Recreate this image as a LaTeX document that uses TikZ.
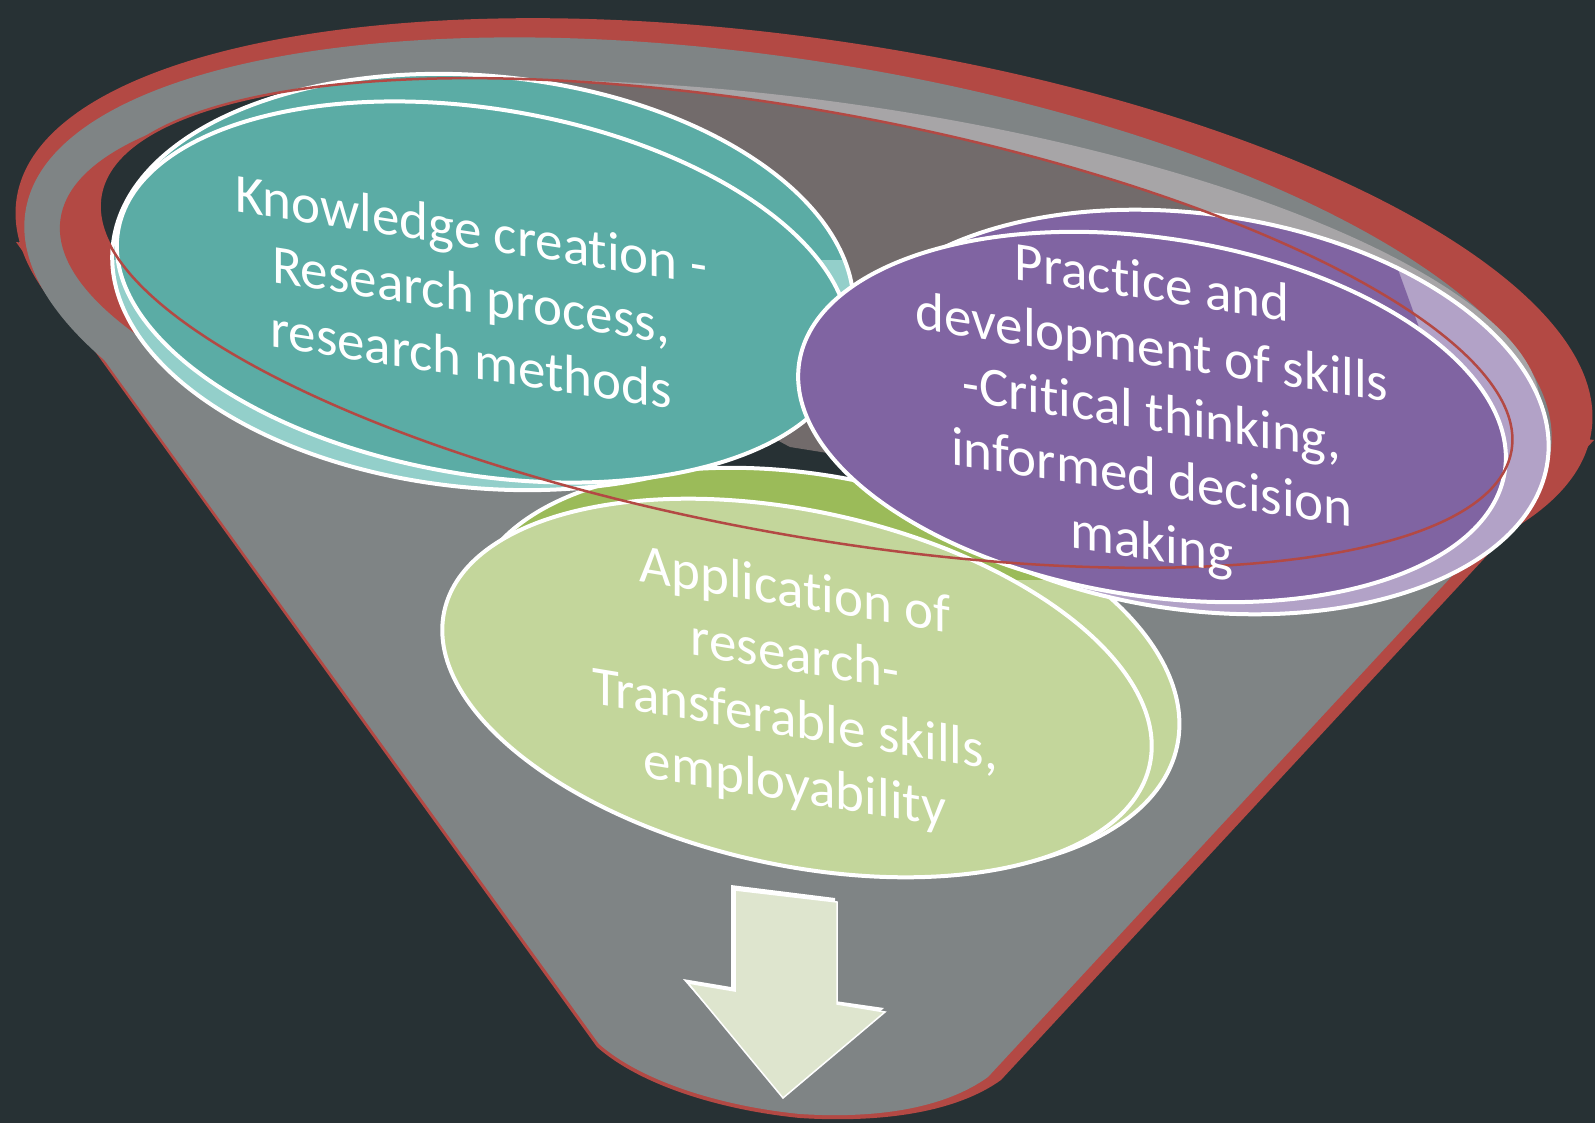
\documentclass[tikz,border=0pt]{standalone}
\usepackage{fontspec}
\setmainfont{Carlito}[Ligatures={NoCommon}]
\definecolor{bg}{HTML}{273134}
\definecolor{rimred}{HTML}{B34944}
\definecolor{fgray}{HTML}{7F8485}
\definecolor{lband}{HTML}{A7A5A7}
\definecolor{brownish}{HTML}{726B6B}
\definecolor{tealm}{HTML}{5BACA5}
\definecolor{teall}{HTML}{93CFCA}
\definecolor{purm}{HTML}{8064A2}
\definecolor{purl}{HTML}{B2A2C7}
\definecolor{grnm}{HTML}{C3D69B}
\definecolor{grnd}{HTML}{9BBB59}
\definecolor{arrowc}{HTML}{DEE5CE}
\begin{document}
\begin{tikzpicture}[x=1pt,y=-1pt,
  outl/.style={draw=white,line width=4pt},
  txt/.style={text=white,align=center,font=\fontsize{55}{65}\selectfont,inner sep=0pt,transform shape}]
\useasboundingbox (0,0) rectangle (1595,1123);
\fill[bg] (0,0) rectangle (1595,1123);
% funnel body
\fill[rimred] (16,242) -- (597,1047) .. controls (640,1085) and (720,1110) .. (800,1118)
  .. controls (880,1123) and (955,1113) .. (1001,1080) -- (1594,440) -- cycle;
\fill[fgray] (19,242) -- (599,1044) .. controls (641,1081) and (720,1106) .. (800,1114)
  .. controls (878,1119) and (945,1108) .. (988,1077) -- (1578,440) -- cycle;
% rim
\fill[rimred, rotate around={-8.4:(804,315)}] (804,315) ellipse [x radius=796, y radius=276];
\fill[fgray, rotate around={-9:(788,332)}] (788,332) ellipse [x radius=772, y radius=272];
% inner crescent
\begin{scope}
  \clip[rotate around={-7.5:(800,317)}] (800,317) ellipse [x radius=746, y radius=218];
  \fill[lband] (250,0) -- (1600,0) -- (1600,470) -- (250,470) -- cycle;
  \fill[rimred] (0,0) -- (300,0) -- (300,90) -- (175,360) -- (0,360) -- cycle;
\end{scope}
% hole
\fill[bg, rotate around={-10.3:(806,323)}] (806,323) ellipse [x radius=717, y radius=212];
\begin{scope}
  \clip[rotate around={-10.3:(806,323)}] (806,323) ellipse [x radius=717, y radius=212];
  \fill[brownish] (330,0) -- (1600,0) -- (1600,250) -- (1150,292) -- (1000,360) -- (840,455) -- (790,447) -- (330,200) -- cycle;
\end{scope}
% green
\fill[grnm, rotate around={-12:(824,671)}] (824,671) ellipse [x radius=361, y radius=193];
\begin{scope}
  \clip[rotate around={-12:(824,671)}] (824,671) ellipse [x radius=361, y radius=193];
  \fill[grnd] (400,400) -- (1125,400) -- (1125,580) -- (400,580) -- cycle;
\end{scope}
\draw[outl, rotate around={-12:(824,671)}] (824,671) ellipse [x radius=361, y radius=193];
\fill[grnm, outl, rotate around={-12.3:(797,688)}] (797,688) ellipse [x radius=361, y radius=177];
% teal
\fill[teall, rotate around={-5.5:(483,282)}] (483,282) ellipse [x radius=372, y radius=206];
\begin{scope}
  \clip[rotate around={-5.5:(483,282)}] (483,282) ellipse [x radius=372, y radius=206];
  \fill[tealm] (0,0) rectangle (1000,260);
\end{scope}
\draw[outl, rotate around={-5.5:(483,282)}] (483,282) ellipse [x radius=372, y radius=206];
\fill[tealm, outl, rotate around={-9.5:(483,292)}] (483,292) ellipse [x radius=370, y radius=183];
% purple
\fill[purl, rotate around={-8:(1195,412)}] (1195,412) ellipse [x radius=356, y radius=198];
\begin{scope}
  \clip[rotate around={-8:(1195,412)}] (1195,412) ellipse [x radius=356, y radius=198];
  \fill[purm] (700,0) -- (1300,0) -- (1420,330) -- (700,330) -- cycle;
\end{scope}
\draw[outl, rotate around={-8:(1195,412)}] (1195,412) ellipse [x radius=356, y radius=198];
\fill[purm, outl, rotate around={-8.8:(1152,417)}] (1152,417) ellipse [x radius=357, y radius=179];
% front rim line
\draw[rimred, line width=2.5pt, rotate around={-10.3:(806,323)}] (806,323) ellipse [x radius=717, y radius=212];
% texts
\begin{scope}[shift={(471,294)}, yslant=-0.155]
  \node[txt] (know) at (0,0) {Knowledge creation -\\Research process,\\research methods};
\end{scope}
\begin{scope}[shift={(1152,416)}, yslant=-0.155]
  \node[txt] (prac) at (0,0) {Practice and\\development of skills\\-Critical thinking,\\informed decision\\making};
\end{scope}
\begin{scope}[shift={(795,690)}, yslant=-0.165]
  \node[txt] (appl) at (0,0) {Application of\\research-\\Transferable skills,\\employability};
\end{scope}
% arrow
\fill[white] (731,885) -- (835,898) -- (835,1001) -- (884,1008) -- (783,1094) -- (683,979) -- (731,987) -- cycle;
\draw[fill=arrowc, draw=white, line width=1.5pt] (735,890) -- (837,902) -- (837,1004) -- (885,1012) -- (783,1098) -- (688,983) -- (735,991) -- cycle;
\end{tikzpicture}
\end{document}
